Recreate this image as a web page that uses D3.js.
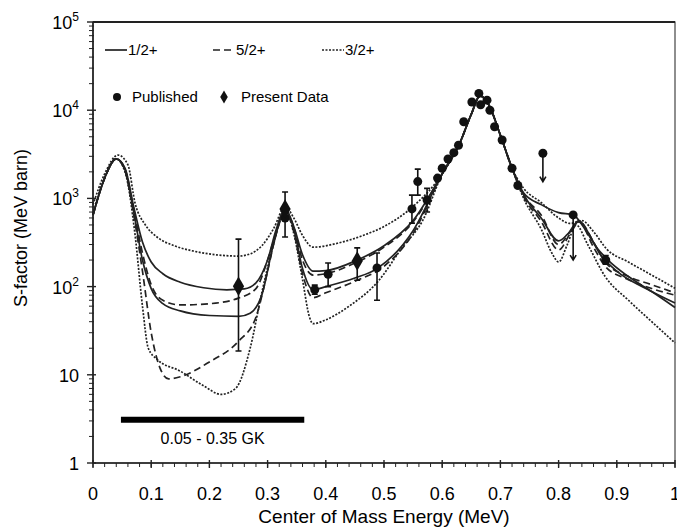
<!DOCTYPE html>
<html>
<head>
<meta charset="utf-8">
<script src="https://cdn.jsdelivr.net/npm/d3@7"></script>
<style>
  body { margin: 0; background: #fff; }
  svg { font-family: "Liberation Sans", Arial, sans-serif; }
</style>
</head>
<body>
<div id="chart"></div>
<script>
// R-matrix fits, [energy MeV, S-factor MeV b]
var peakCore = [[0.6,1900],[0.63,4200],[0.65,9000],[0.665,14500],[0.68,11500],[0.7,5200],[0.72,2200]];

var solidA = [[0,650],[0.02,1700],[0.04,2800],[0.055,2200],[0.07,800],[0.085,320],[0.1,190],[0.12,140],[0.15,112],[0.19,97],[0.23,92],[0.26,94],[0.28,110],[0.3,200],[0.315,450],[0.33,760],[0.345,480],[0.36,230],[0.378,150],[0.4,152],[0.454,200],[0.5,290],[0.55,560]]
  .concat(peakCore, [[0.74,1150],[0.77,850],[0.8,690],[0.825,650],[0.845,450],[0.865,280],[0.885,200],[0.92,130],[0.96,88],[1.0,58]]);

var solidB = [[0,650],[0.02,1700],[0.04,2800],[0.055,2100],[0.07,700],[0.085,200],[0.1,95],[0.12,64],[0.15,53],[0.2,47],[0.25,46],[0.27,50],[0.29,80],[0.31,300],[0.33,720],[0.345,450],[0.36,160],[0.378,92],[0.4,100],[0.45,125],[0.488,160],[0.55,430]]
  .concat(peakCore, [[0.74,1100],[0.77,600],[0.8,330],[0.815,390],[0.835,560],[0.85,420],[0.87,240],[0.9,150],[0.95,95],[1.0,65]]);

var dashA = [[0,650],[0.02,1700],[0.04,2800],[0.055,2150],[0.07,750],[0.085,240],[0.1,105],[0.12,70],[0.15,62],[0.2,64],[0.25,74],[0.28,95],[0.3,200],[0.315,420],[0.33,740],[0.345,470],[0.36,200],[0.378,135],[0.4,140],[0.45,185],[0.5,280],[0.55,540]]
  .concat(peakCore, [[0.74,1100],[0.77,650],[0.8,300],[0.82,420],[0.835,550],[0.86,320],[0.88,190],[0.92,130],[0.96,105],[1.0,85]]);

var dashB = [[0,650],[0.02,1700],[0.04,2800],[0.055,2050],[0.07,650],[0.085,150],[0.1,30],[0.115,12],[0.13,9],[0.15,9.5],[0.2,14],[0.25,24],[0.28,45],[0.3,150],[0.315,400],[0.33,700],[0.345,420],[0.36,140],[0.378,75],[0.4,85],[0.45,115],[0.5,170],[0.55,400]]
  .concat(peakCore, [[0.74,1050],[0.77,550],[0.8,260],[0.82,400],[0.835,540],[0.86,280],[0.88,170],[0.92,120],[0.96,95],[1.0,80]]);

var dotA = [[0,850],[0.02,1900],[0.043,3100],[0.06,2400],[0.072,900],[0.09,500],[0.11,365],[0.14,290],[0.17,255],[0.21,230],[0.25,222],[0.27,235],[0.29,290],[0.31,450],[0.33,800],[0.345,600],[0.36,380],[0.378,280],[0.42,310],[0.464,380],[0.5,480],[0.545,760]]
  .concat(peakCore, [[0.74,1300],[0.77,900],[0.8,600],[0.82,520],[0.84,560],[0.86,420],[0.883,265],[0.92,190],[0.96,135],[1.0,96]]);

var dotB = [[0,650],[0.02,1700],[0.04,2800],[0.055,2000],[0.072,400],[0.085,60],[0.095,20],[0.11,15],[0.15,11],[0.19,7.5],[0.22,6],[0.245,7],[0.27,20],[0.29,85],[0.31,300],[0.33,750],[0.345,400],[0.36,120],[0.372,45],[0.378,38],[0.4,42],[0.44,60],[0.49,115],[0.53,270],[0.567,570]]
  .concat(peakCore, [[0.74,1000],[0.77,450],[0.79,230],[0.8,190],[0.815,300],[0.83,500],[0.85,300],[0.88,130],[0.92,70],[0.96,40],[1.0,23]]);

// measurements: [energy, S, low, high]
var published = [[0.33,600,600,600],[0.381,92,82,104],[0.404,138,100,185],[0.488,163,70,240],[0.548,760,525,1090],[0.558,1550,1090,2150],[0.574,960,700,1300],
  [0.592,1700,1700,1700],[0.6,2200,2200,2200],[0.61,2800,2800,2800],[0.62,3300,3300,3300],[0.628,4000,4000,4000],[0.637,7400,7400,7400],[0.651,12400,12400,12400],
  [0.663,15500,15500,15500],[0.666,11500,11500,11500],[0.677,13000,13000,13000],[0.682,10000,10000,10000],[0.69,6500,6500,6500],[0.703,4600,4600,4600],
  [0.72,2200,2200,2200],[0.73,1400,1400,1400],[0.881,200,180,225]];
var upperLimits = [[0.773,3250,1550],[0.825,650,200]];
var present = [[0.25,101,18.6,345],[0.33,760,365,1180],[0.454,195,118,275]];

var gkRange = [0.048, 0.363], gkLevel = 3.1, gkLabel = "0.05 - 0.35 GK";
var yMajor = [1, 10, 100, 1000, 10000, 100000];
var xMajor = [0, 0.1, 0.2, 0.3, 0.4, 0.5, 0.6, 0.7, 0.8, 0.9, 1];

var margin = {top: 22, right: 2, bottom: 64, left: 93},
  width = 677 - margin.left - margin.right,
  height = 527 - margin.top - margin.bottom;

var svg = d3.select("#chart").append("svg")
  .attr("width", 677).attr("height", 527)
  .append("g")
  .attr("transform", "translate(" + margin.left + "," + margin.top + ")");

var x = d3.scaleLinear().domain([0, 1]).range([0, width]);
var y = d3.scaleLog().domain([1, 1e5]).range([height, 0]);

// frame
svg.append("rect").attr("width", width).attr("height", height)
  .attr("fill", "none").attr("stroke", "#444").attr("stroke-width", 1.2);
svg.append("line").attr("x1", 0).attr("x2", width).attr("y1", 0).attr("y2", 0)
  .attr("stroke", "#222").attr("stroke-width", 2);
svg.append("line").attr("x1", 0).attr("x2", width).attr("y1", height).attr("y2", height)
  .attr("stroke", "#222").attr("stroke-width", 1.6);
svg.append("line").attr("x1", 0).attr("x2", 0).attr("y1", 0).attr("y2", height)
  .attr("stroke", "#222").attr("stroke-width", 1.6);

// x ticks
var xMinor = d3.range(0, 1.0001, 0.02);
svg.selectAll(".xmin").data(xMinor).enter().append("line")
  .attr("x1", function(d){ return x(d); }).attr("x2", function(d){ return x(d); })
  .attr("y1", height).attr("y2", height + 4).attr("stroke", "#222");
svg.selectAll(".xmaj").data(xMajor).enter().append("line")
  .attr("x1", function(d){ return x(d); }).attr("x2", function(d){ return x(d); })
  .attr("y1", height - 3).attr("y2", height + 5).attr("stroke", "#222").attr("stroke-width", 1.4);
svg.selectAll(".xlab").data(xMajor).enter().append("text")
  .attr("x", function(d){ return x(d); }).attr("y", height + 37)
  .attr("text-anchor", "middle").style("font-size", "18px")
  .text(function(d){ return d === 0 || d === 1 ? d : d.toFixed(1); });

// y ticks
var yMinor = [];
yMajor.slice(0, -1).forEach(function(m){ for (var k = 2; k <= 9; k++) yMinor.push(m * k); });
svg.selectAll(".ymin").data(yMinor).enter().append("line")
  .attr("x1", -4).attr("x2", 1)
  .attr("y1", function(d){ return y(d); }).attr("y2", function(d){ return y(d); })
  .attr("stroke", "#222");
svg.selectAll(".ymaj").data(yMajor).enter().append("line")
  .attr("x1", -6).attr("x2", 3)
  .attr("y1", function(d){ return y(d); }).attr("y2", function(d){ return y(d); })
  .attr("stroke", "#222").attr("stroke-width", 1.4);
var ylab = svg.selectAll(".ylab").data(yMajor).enter().append("text")
  .attr("x", -14).attr("y", function(d){ return y(d) + 7; })
  .attr("text-anchor", "end").style("font-size", "18px");
ylab.each(function(d){
  var e = Math.round(Math.log10(d)), t = d3.select(this);
  if (e < 2) { t.text(d); return; }
  t.append("tspan").text("10");
  t.append("tspan").attr("dy", -8).style("font-size", "12px").text(e);
});

// axis titles
svg.append("text").attr("x", 291).attr("y", height + 60)
  .attr("text-anchor", "middle").style("font-size", "19px")
  .text("Center of Mass Energy (MeV)");
svg.append("text").attr("transform", "rotate(-90)")
  .attr("x", -(228 - margin.top)).attr("y", -66)
  .attr("text-anchor", "middle").style("font-size", "18px")
  .text("S-factor (MeV barn)");

// curves
var line = d3.line()
  .x(function(d){ return x(d[0]); })
  .y(function(d){ return y(d[1]); })
  .curve(d3.curveMonotoneX);

var styles = {solid: null, dash: "7,4", dot: "2,1.5"};
var curves = [
  {data: dotA, dash: styles.dot}, {data: dotB, dash: styles.dot},
  {data: dashA, dash: styles.dash}, {data: dashB, dash: styles.dash},
  {data: solidA, dash: styles.solid}, {data: solidB, dash: styles.solid}
];
svg.selectAll(".fit").data(curves).enter().append("path")
  .attr("d", function(d){ return line(d.data); })
  .attr("fill", "none").attr("stroke", "#222").attr("stroke-width", 1.7)
  .attr("stroke-dasharray", function(d){ return d.dash; });

// error bars
var errs = published.concat(present).filter(function(d){ return d[2] !== d[3]; });
svg.selectAll(".err").data(errs).enter().append("path")
  .attr("d", function(d){
    var cx = x(d[0]), lo = y(d[2]), hi = y(d[3]);
    return "M" + cx + "," + lo + "V" + hi + "M" + (cx - 3) + "," + lo + "h6M" + (cx - 3) + "," + hi + "h6";
  })
  .attr("fill", "none").attr("stroke", "#111").attr("stroke-width", 1.6);

// upper limits
svg.selectAll(".ulim").data(upperLimits).enter().append("path")
  .attr("d", function(d){
    var cx = x(d[0]), top = y(d[1]), bot = y(d[2]);
    return "M" + cx + "," + top + "V" + bot + "M" + (cx - 3) + "," + (bot - 5) + "L" + cx + "," + bot + "L" + (cx + 3) + "," + (bot - 5);
  })
  .attr("fill", "none").attr("stroke", "#111").attr("stroke-width", 1.6);

// markers
svg.selectAll(".pub").data(published.concat(upperLimits)).enter().append("circle")
  .attr("cx", function(d){ return x(d[0]); }).attr("cy", function(d){ return y(d[1]); })
  .attr("r", 4.5).attr("fill", "#111");
var diamond = d3.symbol().type(d3.symbolDiamond).size(110);
svg.selectAll(".pres").data(present).enter().append("path")
  .attr("d", diamond)
  .attr("transform", function(d){ return "translate(" + x(d[0]) + "," + y(d[1]) + ")"; })
  .attr("fill", "#111");

// temperature range bar
svg.append("line")
  .attr("x1", x(gkRange[0])).attr("x2", x(gkRange[1]))
  .attr("y1", y(gkLevel)).attr("y2", y(gkLevel))
  .attr("stroke", "#000").attr("stroke-width", 6);
svg.append("text")
  .attr("x", x((gkRange[0] + gkRange[1]) / 2)).attr("y", y(gkLevel) + 24)
  .attr("text-anchor", "middle").style("font-size", "16px")
  .text(gkLabel);

// legend
var legLines = [
  {label: "1/2+", dash: styles.solid, x: 12},
  {label: "5/2+", dash: styles.dash, x: 120},
  {label: "3/2+", dash: styles.dot, x: 229}
];
var lg = svg.append("g").attr("transform", "translate(0,28)");
legLines.forEach(function(d){
  lg.append("line").attr("x1", d.x).attr("x2", d.x + 22).attr("y1", 0).attr("y2", 0)
    .attr("stroke", "#222").attr("stroke-width", 1.7).attr("stroke-dasharray", d.dash);
  lg.append("text").attr("x", d.x + 23).attr("y", 5).style("font-size", "15px").text(d.label);
});
var lg2 = svg.append("g").attr("transform", "translate(0,75)");
lg2.append("circle").attr("cx", 24).attr("cy", 0).attr("r", 4).attr("fill", "#111");
lg2.append("text").attr("x", 39).attr("y", 5).style("font-size", "15px").text("Published");
lg2.append("path").attr("d", d3.symbol().type(d3.symbolDiamond).size(50))
  .attr("transform", "translate(131,0)").attr("fill", "#111");
lg2.append("text").attr("x", 148).attr("y", 5).style("font-size", "15px").text("Present Data");
</script>
</body>
</html>
